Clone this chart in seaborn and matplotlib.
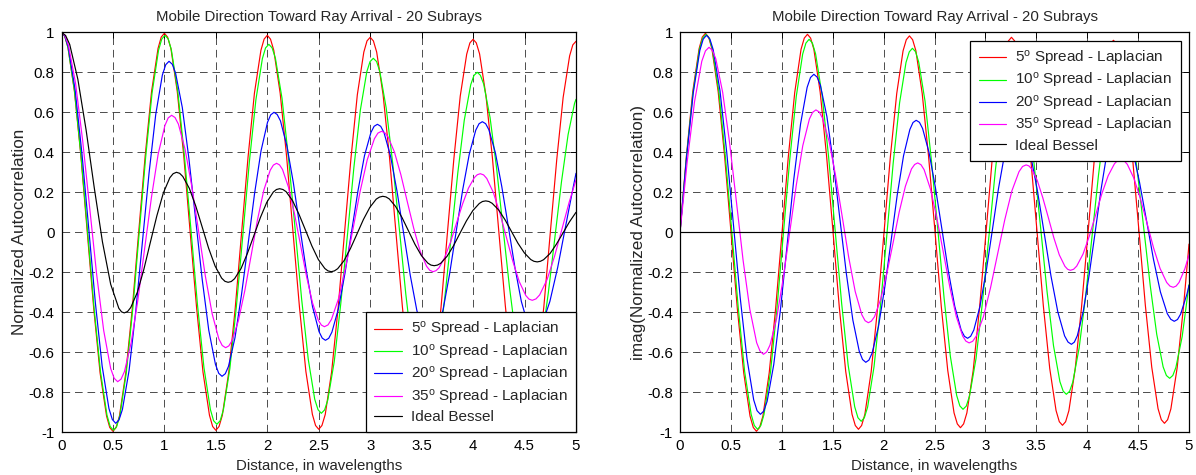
import matplotlib
matplotlib.use("Agg")
import matplotlib.pyplot as plt
import seaborn as sns

# ---------------- data ----------------
title_text = "Mobile Direction Toward Ray Arrival - 20 Subrays"
xlabel_text = "Distance, in wavelengths"
ylabel_left = "Normalized Autocorrelation"
ylabel_right = "imag(Normalized Autocorrelation)"
series_labels = ["5$^{\\mathrm{o}}$ Spread - Laplacian", "10$^{\\mathrm{o}}$ Spread - Laplacian",
                 "20$^{\\mathrm{o}}$ Spread - Laplacian", "35$^{\\mathrm{o}}$ Spread - Laplacian",
                 "Ideal Bessel"]
series_colors = ["#ff0000", "#00ff00", "#0000ff", "#ff00ff", "#000000"]

x_ticks = [0, 0.5, 1, 1.5, 2, 2.5, 3, 3.5, 4, 4.5, 5]
x_tick_labels = ["0", "0.5", "1", "1.5", "2", "2.5", "3", "3.5", "4", "4.5", "5"]
y_ticks = [-1, -0.8, -0.6, -0.4, -0.2, 0, 0.2, 0.4, 0.6, 0.8, 1]
y_tick_labels = ["-1", "-0.8", "-0.6", "-0.4", "-0.2", "0", "0.2", "0.4", "0.6", "0.8", "1"]

# ---- left panel: real part ----
re5_x = [0,.031,.063,.125,.188,.25,.313,.375,.438,.469,.5,
         .531,.563,.625,.688,.75,.813,.875,.938,.969,1,
         1.031,1.063,1.125,1.188,1.25,1.313,1.375,1.438,1.469,1.5,
         1.531,1.563,1.625,1.688,1.75,1.813,1.875,1.938,1.969,2,
         2.031,2.063,2.125,2.188,2.25,2.313,2.375,2.438,2.469,2.5,
         2.531,2.563,2.625,2.688,2.75,2.813,2.875,2.938,2.969,3,
         3.031,3.063,3.125,3.188,3.25,3.313,3.375,3.438,3.469,3.5,
         3.531,3.563,3.625,3.688,3.75,3.813,3.875,3.938,3.969,4,
         4.031,4.063,4.125,4.188,4.25,4.313,4.375,4.438,4.469,4.5,
         4.531,4.563,4.625,4.688,4.75,4.813,4.875,4.938,4.969,5]
re5_y = [1,.981,.924,.708,.385,.003,-.380,-.703,-.919,-.976,-.995,
         -.976,-.919,-.703,-.381,0,.381,.703,.919,.976,.995,
         .976,.920,.704,.383,.003,-.378,-.699,-.915,-.971,-.99,
         -.971,-.915,-.701,-.381,-.003,.376,.696,.910,.966,.985,
         .966,.910,.696,.377,0,-.377,-.696,-.910,-.966,-.985,
         -.966,-.911,-.698,-.380,-.005,.370,.688,.901,.957,.975,
         .957,.901,.689,.373,0,-.373,-.689,-.901,-.957,-.975,
         -.957,-.901,-.691,-.377,-.005,.367,.681,.891,.947,.965,
         .947,.892,.683,.371,.003,-.366,-.678,-.887,-.942,-.96,
         -.942,-.887,-.679,-.369,-.003,.364,.674,.882,.937,.955]

re10_x = [0,.032,.063,.126,.189,.253,.316,.379,.442,.473,.505,
          .536,.568,.630,.693,.755,.818,.880,.943,.974,1.005,
          1.037,1.068,1.131,1.194,1.258,1.321,1.384,1.447,1.478,1.51,
          1.542,1.573,1.636,1.699,1.763,1.826,1.889,1.952,1.983,2.015,
          2.047,2.079,2.143,2.206,2.27,2.334,2.398,2.461,2.493,2.525,
          2.557,2.588,2.651,2.714,2.778,2.841,2.904,2.967,2.998,3.03,
          3.062,3.093,3.156,3.219,3.283,3.346,3.409,3.472,3.503,3.535,
          3.567,3.598,3.661,3.724,3.788,3.851,3.914,3.977,4.008,4.04,
          4.071,4.103,4.165,4.228,4.29,4.353,4.415,4.478,4.509,4.54,
          4.572,4.604,4.668,4.731,4.795,4.859,4.923,4.986,5]
re10_y = [1,.981,.924,.708,.386,.005,-.376,-.698,-.914,-.971,-.99,
          -.971,-.915,-.701,-.381,-.003,.376,.696,.910,.966,.985,
          .967,.911,.700,.385,.013,-.360,-.675,-.886,-.942,-.96,
          -.942,-.888,-.682,-.374,-.01,.354,.662,.868,.922,.94,
          .922,.870,.670,.371,.018,-.336,-.635,-.835,-.887,-.905,
          -.888,-.838,-.645,-.357,-.018,.322,.610,.803,.853,.87,
          .854,.805,.620,.344,.018,-.309,-.585,-.770,-.819,-.835,
          -.819,-.773,-.596,-.331,-.018,.296,.560,.738,.784,.80,
          .785,.741,.573,.322,.025,-.272,-.523,-.691,-.735,-.75,
          -.736,-.695,-.538,-.303,-.025,.253,.488,.645,.665]

re20_x = [0,.033,.066,.132,.198,.264,.329,.395,.461,.494,.527,
          .559,.592,.657,.721,.786,.851,.916,.98,1.013,1.045,
          1.077,1.109,1.174,1.238,1.303,1.367,1.431,1.496,1.528,1.56,
          1.592,1.623,1.686,1.749,1.813,1.876,1.939,2.002,2.033,2.065,
          2.096,2.128,2.19,2.253,2.315,2.378,2.44,2.503,2.534,2.565,
          2.597,2.628,2.691,2.754,2.818,2.881,2.944,3.007,3.038,3.07,
          3.102,3.134,3.198,3.261,3.325,3.389,3.453,3.516,3.548,3.58,
          3.612,3.644,3.708,3.771,3.835,3.899,3.963,4.026,4.058,4.09,
          4.122,4.153,4.216,4.279,4.343,4.406,4.469,4.532,4.563,4.595,
          4.633,4.671,4.746,4.822,4.897,4.973,5]
re20_y = [1,.981,.926,.714,.397,.023,-.352,-.669,-.881,-.936,-.955,
          -.938,-.886,-.69,-.397,-.05,.297,.590,.786,.838,.855,
          .84,.795,.624,.369,.068,-.234,-.489,-.660,-.705,-.72,
          -.707,-.67,-.527,-.313,-.06,.193,.407,.55,.587,.60,
          .589,.557,.433,.248,.03,-.188,-.373,-.497,-.529,-.54,
          -.53,-.499,-.382,-.207,0,.207,.382,.499,.53,.54,
          .53,.499,.38,.204,-.005,-.214,-.390,-.509,-.54,-.55,
          -.54,-.508,-.388,-.21,.002,.213,.391,.511,.543,.553,
          .543,.513,.399,.228,.027,-.175,-.346,-.460,-.49,-.50,
          -.49,-.46,-.346,-.176,.025,.226,.295]

re35_x = [0,.034,.068,.137,.205,.273,.341,.41,.478,.512,.546,
          .579,.612,.677,.743,.808,.874,.939,1.005,1.037,1.07,
          1.103,1.136,1.201,1.267,1.333,1.398,1.464,1.529,1.562,1.595,
          1.626,1.657,1.719,1.781,1.843,1.904,1.966,2.028,2.059,2.09,
          2.119,2.148,2.206,2.264,2.323,2.381,2.439,2.497,2.526,2.555,
          2.59,2.624,2.694,2.763,2.833,2.902,2.971,3.041,3.075,3.11,
          3.141,3.173,3.235,3.298,3.36,3.423,3.485,3.548,3.579,3.61,
          3.639,3.668,3.725,3.783,3.84,3.898,3.955,4.013,4.041,4.07,
          4.102,4.133,4.196,4.259,4.323,4.386,4.449,4.512,4.543,4.575,
          4.611,4.647,4.719,4.791,4.863,4.934,5]
re35_y = [1,.983,.934,.744,.461,.127,-.208,-.491,-.681,-.73,-.747,
          -.734,-.696,-.552,-.336,-.081,.174,.390,.534,.572,.585,
          .574,.541,.415,.227,.004,-.219,-.407,-.533,-.566,-.577,
          -.568,-.542,-.442,-.293,-.116,.061,.21,.31,.336,.345,
          .337,.314,.225,.093,-.064,-.220,-.352,-.441,-.464,-.472,
          -.463,-.435,-.329,-.171,.017,.204,.362,.468,.496,.505,
          .498,.478,.402,.288,.154,.02,-.094,-.17,-.19,-.197,
          -.192,-.178,-.125,-.046,.048,.142,.221,.274,.288,.293,
          .287,.269,.20,.098,-.024,-.145,-.247,-.316,-.334,-.34,
          -.333,-.313,-.236,-.121,.015,.151,.262]

bessel_x = [0,.04,.08,.159,.239,.318,.398,.478,.557,.584,.61,
            .642,.673,.737,.8,.863,.927,.99,1.053,1.085,1.117,
            1.148,1.179,1.242,1.305,1.368,1.43,1.493,1.556,1.588,1.619,
            1.65,1.682,1.745,1.807,1.87,1.933,1.995,2.058,2.089,2.12,
            2.152,2.183,2.246,2.308,2.371,2.433,2.496,2.559,2.59,2.621,
            2.652,2.684,2.747,2.809,2.872,2.934,2.997,3.059,3.09,3.122,
            3.153,3.185,3.247,3.31,3.372,3.435,3.497,3.56,3.591,3.622,
            3.653,3.685,3.747,3.81,3.872,3.935,3.998,4.06,4.091,4.123,
            4.154,4.185,4.248,4.31,4.373,4.435,4.498,4.56,4.591,4.623,
            4.654,4.685,4.748,4.81,4.873,4.935,5]
bessel_y = [1,.984,.939,.765,.512,.224,-.048,-.26,-.38,-.398,-.403,
            -.396,-.376,-.30,-.186,-.051,.083,.197,.273,.293,.30,
            .295,.279,.22,.131,.025,-.08,-.169,-.229,-.245,-.25,
            -.246,-.232,-.181,-.105,-.016,.074,.15,.201,.214,.218,
            .214,.203,.158,.09,.011,-.068,-.136,-.181,-.193,-.197,
            -.193,-.182,-.141,-.08,-.008,.064,.125,.166,.176,.18,
            .177,.167,.129,.073,.007,-.06,-.116,-.154,-.164,-.167,
            -.164,-.155,-.12,-.067,-.005,.057,.109,.144,.154,.157,
            .154,.145,.112,.063,.004,-.054,-.103,-.136,-.145,-.148,
            -.145,-.137,-.106,-.059,-.004,.051,.10]

# ---- right panel: imaginary part ----
im5_x = [0,.063,.125,.188,.219,.25,
         .281,.313,.375,.438,.501,.563,.626,.688,.72,.751,
         .782,.814,.876,.939,1.002,1.064,1.127,1.189,1.221,1.252,
         1.283,1.315,1.377,1.44,1.503,1.565,1.628,1.69,1.722,1.753,
         1.784,1.816,1.878,1.941,2.004,2.066,2.129,2.191,2.223,2.254,
         2.285,2.317,2.379,2.442,2.505,2.567,2.63,2.692,2.724,2.755,
         2.786,2.818,2.88,2.943,3.006,3.068,3.131,3.193,3.225,3.256,
         3.287,3.319,3.381,3.444,3.507,3.569,3.632,3.694,3.726,3.757,
         3.788,3.82,3.882,3.945,4.008,4.07,4.133,4.195,4.227,4.258,
         4.289,4.321,4.383,4.446,4.509,4.571,4.634,4.696,4.728,4.759,
         4.79,4.822,4.884,4.947,5]
im5_y = [0,.381,.703,.919,.976,.995,
         .976,.919,.703,.381,0,-.381,-.703,-.919,-.976,-.995,
         -.976,-.92,-.704,-.383,-.003,.378,.699,.915,.971,.99,
         .971,.915,.701,.381,.003,-.376,-.696,-.91,-.966,-.985,
         -.966,-.91,-.697,-.378,-.002,.375,.694,.907,.963,.982,
         .963,.908,.695,.378,.003,-.373,-.69,-.903,-.958,-.977,
         -.958,-.903,-.691,-.375,-.001,.373,.689,.901,.956,.975,
         .957,.901,.691,.377,.005,-.367,-.681,-.891,-.947,-.965,
         -.947,-.892,-.683,-.371,-.003,.366,.678,.887,.942,.96,
         .942,.887,.679,.369,.003,-.364,-.674,-.882,-.937,-.955,
         -.937,-.883,-.676,-.367,-.059]

im10_x = [0,.064,.128,.191,.223,.255,
          .287,.318,.382,.445,.509,.572,.635,.699,.73,.762,
          .794,.825,.889,.952,1.015,1.078,1.142,1.205,1.237,1.268,
          1.3,1.332,1.396,1.46,1.524,1.588,1.652,1.716,1.748,1.78,
          1.811,1.843,1.906,1.969,2.032,2.094,2.157,2.22,2.252,2.283,
          2.314,2.345,2.407,2.469,2.532,2.594,2.656,2.718,2.749,2.78,
          2.812,2.844,2.908,2.971,3.035,3.099,3.163,3.226,3.258,3.29,
          3.322,3.353,3.416,3.479,3.543,3.606,3.669,3.732,3.764,3.795,
          3.827,3.858,3.921,3.984,4.048,4.111,4.174,4.237,4.269,4.30,
          4.332,4.364,4.428,4.491,4.555,4.619,4.683,4.746,4.778,4.81,
          4.841,4.871,4.933,5]
im10_y = [0,.379,.70,.915,.971,.99,
          .971,.915,.701,.381,.003,-.376,-.696,-.91,-.966,-.985,
          -.966,-.911,-.699,-.383,-.01,.363,.679,.891,.946,.965,
          .947,.892,.685,.376,.01,-.356,-.665,-.872,-.927,-.945,
          -.927,-.874,-.672,-.37,-.013,.345,.647,.849,.902,.92,
          .903,.851,.656,.363,.018,-.328,-.621,-.816,-.868,-.885,
          -.869,-.819,-.631,-.35,-.018,.315,.596,.784,.834,.85,
          .834,.787,.607,.338,.02,-.298,-.567,-.747,-.794,-.81,
          -.795,-.75,-.578,-.321,-.018,.286,.543,.715,.76,.775,
          .761,.718,.555,.311,.023,-.266,-.51,-.673,-.716,-.73,
          -.716,-.676,-.521,-.262]

im20_x = [0,.065,.13,.195,.228,.26,
          .293,.326,.393,.459,.525,.591,.658,.724,.757,.79,
          .823,.856,.921,.987,1.053,1.118,1.184,1.249,1.282,1.315,
          1.347,1.379,1.443,1.506,1.57,1.634,1.698,1.761,1.793,1.825,
          1.856,1.887,1.949,2.011,2.073,2.134,2.196,2.258,2.289,2.32,
          2.352,2.383,2.446,2.509,2.573,2.636,2.699,2.762,2.794,2.825,
          2.855,2.886,2.946,3.007,3.068,3.128,3.189,3.249,3.28,3.31,
          3.343,3.377,3.444,3.511,3.578,3.644,3.711,3.778,3.812,3.845,
          3.874,3.903,3.961,4.019,4.078,4.136,4.194,4.252,4.281,4.31,
          4.344,4.378,4.446,4.514,4.583,4.651,4.719,4.787,4.821,4.855,
          4.887,4.918,4.981,5]
im20_y = [0,.377,.696,.91,.966,.985,
          .967,.913,.707,.40,.038,-.325,-.632,-.838,-.892,-.91,
          -.894,-.845,-.661,-.386,-.06,.266,.541,.725,.774,.79,
          .776,.735,.579,.346,.07,-.206,-.439,-.595,-.636,-.65,
          -.639,-.604,-.473,-.277,-.045,.187,.383,.514,.549,.56,
          .55,.519,.40,.224,.015,-.194,-.37,-.489,-.52,-.53,
          -.52,-.489,-.372,-.197,.01,.217,.392,.509,.54,.55,
          .539,.508,.387,.208,-.005,-.218,-.397,-.518,-.549,-.56,
          -.549,-.517,-.396,-.214,0,.214,.396,.517,.549,.56,
          .55,.522,.413,.25,.058,-.135,-.298,-.407,-.435,-.445,
          -.436,-.409,-.307,-.265]

im35_x = [0,.071,.143,.214,.25,.285,
          .318,.352,.419,.486,.553,.619,.686,.753,.787,.82,
          .852,.884,.949,1.013,1.078,1.142,1.206,1.271,1.303,1.335,
          1.367,1.399,1.464,1.528,1.593,1.657,1.721,1.786,1.818,1.85,
          1.88,1.911,1.971,2.032,2.093,2.153,2.214,2.274,2.305,2.335,
          2.367,2.398,2.461,2.524,2.588,2.651,2.714,2.777,2.808,2.84,
          2.875,2.91,2.98,3.05,3.12,3.19,3.26,3.33,3.365,3.40,
          3.427,3.454,3.509,3.563,3.618,3.672,3.726,3.781,3.808,3.835,
          3.866,3.897,3.959,4.021,4.083,4.144,4.206,4.268,4.299,4.33,
          4.362,4.394,4.459,4.523,4.588,4.652,4.716,4.781,4.813,4.845,
          4.873,4.902,4.959,5]
im35_y = [0,.354,.654,.855,.907,.925,
          .91,.867,.70,.452,.158,-.137,-.385,-.552,-.595,-.61,
          -.598,-.564,-.431,-.233,.001,.235,.433,.566,.60,.612,
          .602,.572,.456,.284,.08,-.124,-.296,-.412,-.442,-.452,
          -.444,-.422,-.335,-.206,-.053,.101,.23,.317,.339,.347,
          .338,.313,.215,.069,-.103,-.275,-.421,-.519,-.544,-.553,
          -.545,-.519,-.423,-.278,-.108,.062,.207,.303,.329,.337,
          .332,.317,.26,.174,.074,-.027,-.113,-.17,-.185,-.19,
          -.185,-.169,-.109,-.019,.087,.193,.283,.343,.359,.364,
          .358,.34,.27,.167,.045,-.078,-.181,-.251,-.269,-.275,
          -.269,-.251,-.183,-.113]

im_bessel_x = [0, 5]
im_bessel_y = [0, 0]

# ---------------- styling ----------------
sns.set_style("white")
plt.rcParams['font.family'] = ['Liberation Sans', 'DejaVu Sans']
plt.rcParams['mathtext.fontset'] = 'custom'
plt.rcParams['mathtext.rm'] = 'Liberation Sans'
plt.rcParams['mathtext.it'] = 'Liberation Sans:italic'
plt.rcParams['mathtext.bf'] = 'Liberation Sans:bold'
plt.rcParams['lines.scale_dashes'] = False
plt.rcParams['axes.unicode_minus'] = False

FS = 10.8
FS_YLAB = 12.3
W, H = 1196, 475

fig = plt.figure(figsize=(W / 100, H / 100), dpi=100)
fig.patch.set_facecolor("white")
ax1 = fig.add_axes([61.5 / W, (H - 432.3) / H, 514.5 / W, 400 / H])
ax2 = fig.add_axes([680 / W, (H - 432.3) / H, 509 / W, 400 / H])

left_series = [(re5_x, re5_y), (re10_x, re10_y), (re20_x, re20_y), (re35_x, re35_y), (bessel_x, bessel_y)]
right_series = [(im5_x, im5_y), (im10_x, im10_y), (im20_x, im20_y), (im35_x, im35_y), (im_bessel_x, im_bessel_y)]

for ax, series, ylab in [(ax1, left_series, ylabel_left), (ax2, right_series, ylabel_right)]:
    for (xs, ys), col, lab in zip(series, series_colors, series_labels):
        sns.lineplot(x=xs, y=ys, ax=ax, color=col, lw=0.85, label=lab,
                     sort=False, estimator=None)
    ax.set_xlim(0, 5)
    ax.set_ylim(-1, 1)
    ax.set_xticks(x_ticks)
    ax.set_xticklabels(x_tick_labels)
    ax.set_yticks(y_ticks)
    ax.set_yticklabels(y_tick_labels)
    ax.tick_params(direction="in", top=True, right=True, length=4, width=0.7,
                   labelsize=FS, pad=5, colors="black")
    ax.set_axisbelow(True)
    ax.grid(True, color="#303030", lw=0.6, linestyle=(0, (5.5, 3.5)))
    for sp in ax.spines.values():
        sp.set_color("black")
        sp.set_linewidth(0.9)
    ax.set_title(title_text, fontsize=FS, pad=8)
    ax.set_xlabel(xlabel_text, fontsize=FS, labelpad=4)
    ax.set_ylabel(ylab, fontsize=FS_YLAB, labelpad=1)

leg_kw = dict(fontsize=11, frameon=True, fancybox=False, shadow=False, framealpha=1,
              edgecolor="black", handlelength=1.8, handletextpad=0.6, borderpad=0.55,
              labelspacing=0.22)
l1 = ax1.legend(loc="lower right", borderaxespad=0, **leg_kw)
l2 = ax2.legend(loc="upper right", borderaxespad=0.55, **leg_kw)
for lg in (l1, l2):
    lg.get_frame().set_linewidth(0.9)
    for ln in lg.get_lines():
        ln.set_linewidth(0.85)

fig.savefig("out.png", dpi=100, facecolor="white")
